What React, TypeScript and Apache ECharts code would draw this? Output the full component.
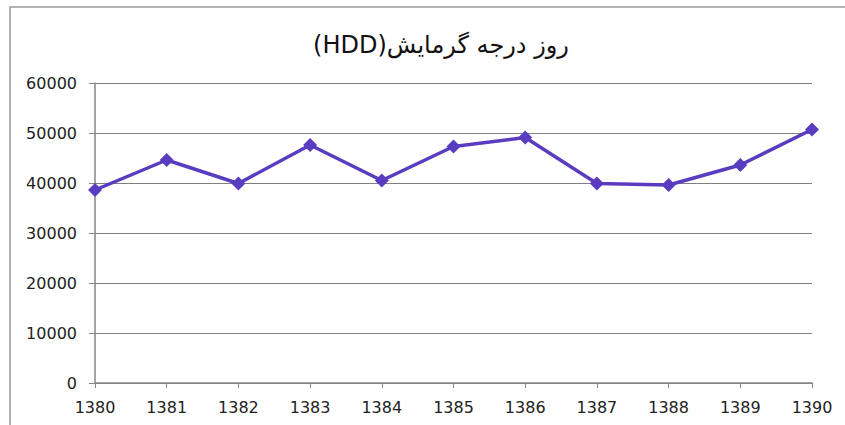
import React, { useEffect, useRef } from "react";
import * as echarts from "echarts";

const years = ["1380", "1381", "1382", "1383", "1384", "1385", "1386", "1387", "1388", "1389", "1390"];
const hdd = [38600, 44600, 39900, 47600, 40500, 47300, 49100, 39900, 39600, 43600, 50700];
const titleText = "\u202Bروز درجه گرمایش(HDD)\u202C";

export default function App() {
  const ref = useRef<HTMLDivElement>(null);
  useEffect(() => {
    document.body.style.margin = "0";
    const chart = echarts.init(ref.current!, null, { renderer: "svg" });
    const axisColor = "#868686";
    const font = "DejaVu Sans";
    chart.setOption({
      animation: false,
      backgroundColor: "#ffffff",
      graphic: [
        {
          type: "rect",
          shape: { x: 10, y: 7, width: 900, height: 500 },
          style: { fill: "none", stroke: "#9a9a9a", lineWidth: 1.5 },
          silent: true,
        },
      ],
      title: {
        text: titleText,
        left: 436,
        top: 28,
        textAlign: "center",
        textStyle: { fontFamily: font, fontSize: 24, fontWeight: "normal", color: "#111" },
      },
      grid: { left: 95, right: 33, top: 83, bottom: 42, containLabel: false },
      xAxis: {
        type: "category",
        data: years,
        boundaryGap: false,
        axisLine: { lineStyle: { color: axisColor, width: 1.5 } },
        axisTick: { show: true, length: 5, lineStyle: { color: axisColor }, alignWithLabel: true },
        axisLabel: { fontFamily: font, fontSize: 16, color: "#222", margin: 16 },
        splitLine: { show: false },
      },
      yAxis: {
        type: "value",
        min: 0,
        max: 60000,
        interval: 10000,
        axisLine: { show: true, lineStyle: { color: axisColor, width: 1.5 } },
        axisTick: { show: true, length: 6, lineStyle: { color: axisColor } },
        axisLabel: { fontFamily: font, fontSize: 16, color: "#222", margin: 18, formatter: (v: number) => String(v) },
        splitLine: { show: true, lineStyle: { color: "#808080", width: 1 } },
      },
      series: [
        {
          type: "line",
          data: hdd,
          symbol: "diamond",
          symbolSize: 14,
          lineStyle: { color: "#5a3cc0", width: 3.5 },
          itemStyle: { color: "#5a3cc0" },
        },
      ],
    });
    return () => chart.dispose();
  }, []);
  return <div ref={ref} style={{ width: 845, height: 425 }} />;
}
